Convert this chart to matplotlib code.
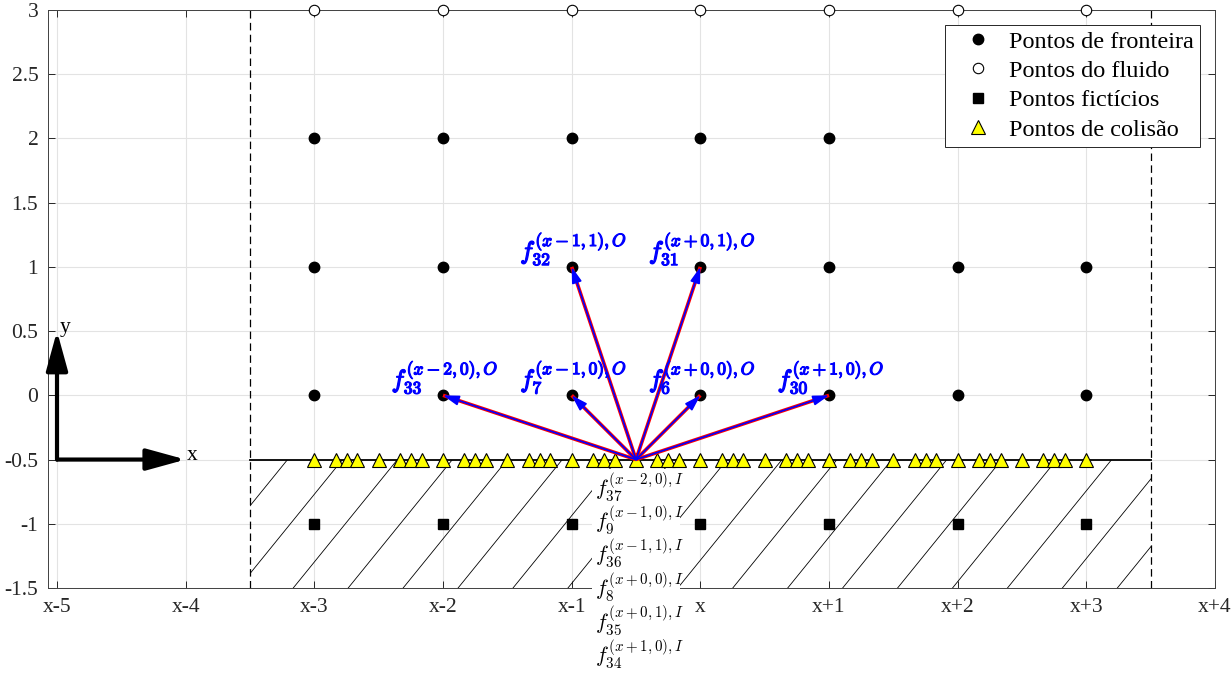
import numpy as np
import matplotlib.pyplot as plt
import matplotlib.patheffects as pe
from matplotlib.patches import Rectangle

plt.rcParams['font.family'] = ['Liberation Serif', 'DejaVu Serif']
plt.rcParams['mathtext.fontset'] = 'cm'
plt.rcParams['axes.unicode_minus'] = False

# --- data ---
x_ticks = [-5, -4, -3, -2, -1, 0, 1, 2, 3, 4]
x_ticklabels = ['x-5', 'x-4', 'x-3', 'x-2', 'x-1', 'x', 'x+1', 'x+2', 'x+3', 'x+4']
y_ticks = [-1.5, -1, -0.5, 0, 0.5, 1, 1.5, 2, 2.5, 3]
y_ticklabels = ['-1.5', '-1', '-0.5', '0', '0.5', '1', '1.5', '2', '2.5', '3']

# pontos de fronteira
bnd_x = [-3, -2, -1, 0, 1,
         -3, -2, -1, 0, 1, 2, 3,
         -3, -2, -1, 0, 1, 2, 3]
bnd_y = [2, 2, 2, 2, 2,
         1, 1, 1, 1, 1, 1, 1,
         0, 0, 0, 0, 0, 0, 0]
# pontos do fluido
fluid_x = [-3, -2, -1, 0, 1, 2, 3]
fluid_y = [3, 3, 3, 3, 3, 3, 3]
# pontos ficticios
fict_x = [-3, -2, -1, 0, 1, 2, 3]
fict_y = [-1, -1, -1, -1, -1, -1, -1]
# pontos de colisao (on the wall y=-0.5)
coll_x = [-3.0, -2.833, -2.75, -2.667, -2.5, -2.333, -2.25, -2.167,
          -2.0, -1.833, -1.75, -1.667, -1.5, -1.333, -1.25, -1.167,
          -1.0, -0.833, -0.75, -0.667, -0.5, -0.333, -0.25, -0.167,
          0.0, 0.167, 0.25, 0.333, 0.5, 0.667, 0.75, 0.833,
          1.0, 1.167, 1.25, 1.333, 1.5, 1.667, 1.75, 1.833,
          2.0, 2.167, 2.25, 2.333, 2.5, 2.667, 2.75, 2.833, 3.0]
coll_y = [-0.5] * len(coll_x)

# outgoing populations from the collision point
src = (-0.5, -0.5)
out_x = [-2, -1, 0, 1, -1, 0]
out_y = [0, 0, 0, 0, 1, 1]
out_labels = [r'$f_{33}^{(x-2,0),O}$', r'$f_{7}^{(x-1,0),O}$',
              r'$f_{6}^{(x+0,0),O}$', r'$f_{30}^{(x+1,0),O}$',
              r'$f_{32}^{(x-1,1),O}$', r'$f_{31}^{(x+0,1),O}$']
in_labels = [r'$f_{37}^{(x-2,0),I}$', r'$f_{9}^{(x-1,0),I}$', r'$f_{36}^{(x-1,1),I}$',
             r'$f_{8}^{(x+0,0),I}$', r'$f_{35}^{(x+0,1),I}$', r'$f_{34}^{(x+1,0),I}$']

fig = plt.figure(figsize=(12.31, 6.73), dpi=100)
ax = fig.add_axes([48/1231, 1-588/673, (1215-48)/1231, (588-10)/673])
ax.set_xlim(-5.07, 4.0)
ax.set_ylim(-1.5, 3)

# grid / ticks in MATLAB style
ax.set_xticks(x_ticks)
ax.set_xticklabels(x_ticklabels)
ax.set_yticks(y_ticks)
ax.set_yticklabels(y_ticklabels)
ax.grid(True, color='#e3e3e3', lw=0.8)
ax.set_axisbelow(True)
ax.tick_params(direction='in', length=5, width=0.7, colors='#262626', labelsize=15.5,
               top=True, right=True, pad=7)
for s in ax.spines.values():
    s.set_color('#404040')
    s.set_linewidth(0.7)

# solid region (hatched)
clip = Rectangle((-3.5, -1.5), 7, 1, fill=False, lw=0)
ax.add_patch(clip)
for x0 in np.arange(0.252 - 0.427 * 12, 3.6, 0.427):
    ln, = ax.plot([x0, x0 + 0.81], [-1.5, -0.5], color='k', lw=0.6)
    ln.set_clip_path(clip)
ax.plot([-3.5, 3.5], [-0.5, -0.5], color='k', lw=1.3)
for xd in [-3.5, 3.5]:
    ax.plot([xd, xd], [-1.5, 3], color='k', lw=0.9, dashes=(6, 3.5), clip_on=False)

# points
ax.plot(bnd_x, bnd_y, 'o', ms=7.5, mfc='k', mec='k', label='Pontos de fronteira', clip_on=False, zorder=4)
ax.plot(fluid_x, fluid_y, 'o', ms=7.5, mfc='white', mec='k', mew=0.8, label='Pontos do fluido',
        clip_on=False, zorder=4)
ax.plot(fict_x, fict_y, 's', ms=6.5, mfc='k', mec='k', label='Pontos fictícios', zorder=4)
ax.plot(coll_x, coll_y, '^', ms=10, mfc='#ffff00', mec='k', mew=0.8, label='Pontos de colisão', zorder=4)

# arrows (red outline + blue core)
bold = [pe.withStroke(linewidth=0.9, foreground='blue')]
for tx, ty, lab in zip(out_x, out_y, out_labels):
    ax.plot([src[0], tx], [src[1], ty], color='red', lw=2.6, zorder=5, solid_capstyle='butt')
    ax.annotate('', xy=(tx, ty), xytext=src, zorder=6,
                arrowprops=dict(arrowstyle='-|>,head_length=0.8,head_width=0.25', mutation_scale=12,
                                lw=1.2, color='blue', shrinkA=0, shrinkB=0))
    ax.text(tx - 0.4, ty + 0.14, lab, color='blue', fontsize=18, ha='left', va='center', zorder=7,
            path_effects=bold)

# incoming populations, stacked below the collision point
ax.add_patch(Rectangle((-0.84, -2.3), 0.685, 1.73, fc='white', ec='none', clip_on=False, zorder=8))
for i, lab in enumerate(in_labels):
    ax.text(-0.82, -0.713 - 0.26 * i, lab, color='k', fontsize=15.5, ha='left', va='center',
            clip_on=False, zorder=9)

# reference frame
arrow_kw = dict(arrowstyle='-|>,head_length=0.8,head_width=0.22', mutation_scale=30, lw=3,
                color='k', shrinkA=0, shrinkB=0)
ax.annotate('', xy=(-4.0, -0.5), xytext=(-5.0, -0.5), arrowprops=arrow_kw)
ax.annotate('', xy=(-5.0, 0.5), xytext=(-5.0, -0.5), arrowprops=arrow_kw)
ax.text(-3.99, -0.47, 'x', fontsize=15.5, ha='left', va='center')
ax.text(-4.98, 0.53, 'y', fontsize=15.5, ha='left', va='center')

leg = ax.legend(loc='upper right', fontsize=17.5, framealpha=1, fancybox=False, edgecolor='#262626',
                borderaxespad=0.6, handletextpad=0.2, labelspacing=0.3, borderpad=0.25,
                handlelength=2.2)
leg.get_frame().set_linewidth(0.7)

plt.savefig('out.png', dpi=100)
